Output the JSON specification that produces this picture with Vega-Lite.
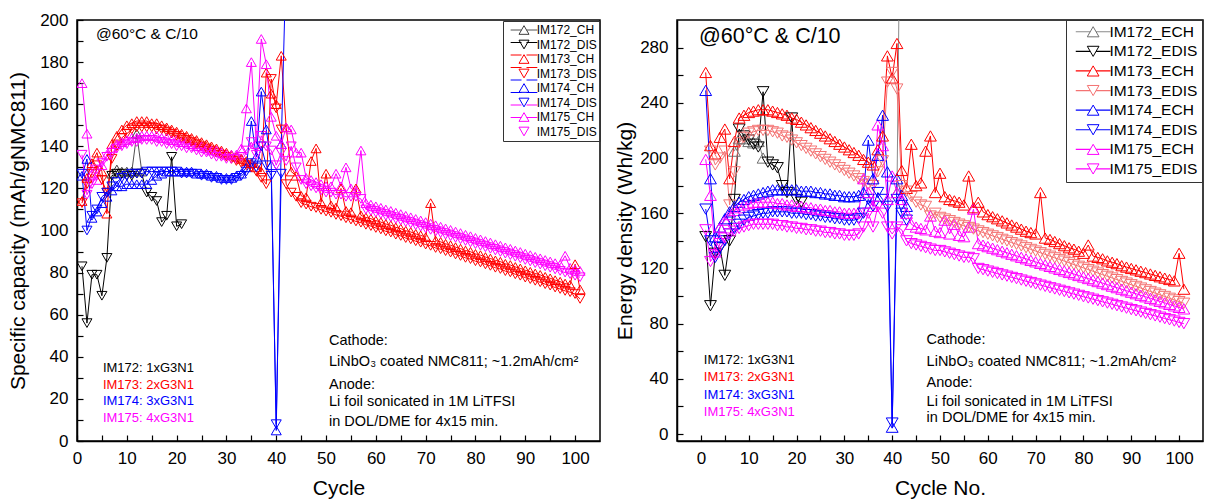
{
"padding": {"left": 6, "top": 10, "right": 2, "bottom": 2},
"background": "white",
"bounds": "flush",
"spacing": 77,
"resolve": {"scale": {"color": "independent", "shape": "independent", "stroke": "independent"}, "legend": {"color": "independent", "shape": "independent", "stroke": "independent"}},
"config": {
 "font": "Liberation Sans",
 "view": {"stroke": "#000", "strokeWidth": 1.5},
 "axis": {"grid": false, "domainColor": "#000", "domainWidth": 1.5, "tickColor": "#000", "tickWidth": 1.2, "tickSize": -6, "labelPadding": 15, "labelFontSize": 17, "labelColor": "#000", "titleFontSize": 21, "titleFontWeight": "normal", "titleColor": "#000", "labelFlush": false, "labelOverlap": false, "labelFont": "Liberation Sans", "titleFont": "Liberation Sans"}
},
"datasets": {
"L": [
{"c":1,"IM172_DIS":83,"IM173_CH":114,"IM173_DIS":113,"IM174_CH":126,"IM174_DIS":127,"IM175_CH":170,"IM175_DIS":136},
{"c":2,"IM172_DIS":56,"IM173_CH":125,"IM173_DIS":122,"IM174_CH":134,"IM174_DIS":100,"IM175_CH":146,"IM175_DIS":117},
{"c":3,"IM172_DIS":79,"IM173_CH":132,"IM173_DIS":127,"IM174_CH":106,"IM174_DIS":107,"IM175_CH":127,"IM175_DIS":122},
{"c":4,"IM172_DIS":79,"IM173_CH":137,"IM173_DIS":131,"IM174_CH":109,"IM174_DIS":110,"IM175_CH":124,"IM175_DIS":129},
{"c":5,"IM172_DIS":69,"IM173_CH":128,"IM173_DIS":124,"IM174_CH":113,"IM174_DIS":116,"IM175_CH":131,"IM175_DIS":132},
{"c":6,"IM172_DIS":87,"IM173_CH":108,"IM173_DIS":118,"IM174_CH":116,"IM174_DIS":118,"IM175_CH":136,"IM175_DIS":135},
{"c":7,"IM172_CH":127,"IM172_DIS":126,"IM173_CH":141,"IM173_DIS":134,"IM174_CH":119,"IM174_DIS":121,"IM175_CH":139,"IM175_DIS":137},
{"c":8,"IM172_CH":129,"IM172_DIS":127,"IM173_CH":145,"IM173_DIS":140,"IM174_CH":121,"IM174_DIS":123,"IM175_CH":141,"IM175_DIS":139},
{"c":9,"IM172_CH":128,"IM172_DIS":127,"IM173_CH":148,"IM173_DIS":144,"IM174_CH":121,"IM174_DIS":125,"IM175_CH":142,"IM175_DIS":140},
{"c":10,"IM172_CH":128,"IM172_DIS":126,"IM173_CH":150,"IM173_DIS":146,"IM174_CH":122,"IM174_DIS":126,"IM175_CH":143,"IM175_DIS":141},
{"c":11,"IM172_CH":128,"IM172_DIS":126,"IM173_CH":151,"IM173_DIS":148,"IM174_CH":122,"IM174_DIS":127,"IM175_CH":144,"IM175_DIS":142},
{"c":12,"IM172_CH":146,"IM172_DIS":127,"IM173_CH":152,"IM173_DIS":149,"IM174_CH":122,"IM174_DIS":127,"IM175_CH":144,"IM175_DIS":142},
{"c":13,"IM172_CH":128,"IM172_DIS":127,"IM173_CH":152,"IM173_DIS":149,"IM174_CH":122,"IM174_DIS":127,"IM175_CH":145,"IM175_DIS":143},
{"c":14,"IM172_DIS":118,"IM173_CH":152,"IM173_DIS":149,"IM174_CH":122,"IM174_DIS":128,"IM175_CH":145,"IM175_DIS":143},
{"c":15,"IM172_DIS":116,"IM173_CH":151,"IM173_DIS":149,"IM174_CH":124,"IM174_DIS":128,"IM175_CH":145,"IM175_DIS":143},
{"c":16,"IM172_DIS":114,"IM173_CH":151,"IM173_DIS":148,"IM174_CH":126,"IM174_DIS":128,"IM175_CH":145,"IM175_DIS":142},
{"c":17,"IM172_DIS":104,"IM173_CH":150,"IM173_DIS":148,"IM174_CH":127,"IM174_DIS":128,"IM175_CH":144,"IM175_DIS":142},
{"c":18,"IM172_DIS":107,"IM173_CH":149,"IM173_DIS":147,"IM174_CH":128,"IM174_DIS":128,"IM175_CH":144,"IM175_DIS":141},
{"c":19,"IM172_DIS":135,"IM173_CH":148,"IM173_DIS":146,"IM174_CH":128,"IM174_DIS":128,"IM175_CH":143,"IM175_DIS":141},
{"c":20,"IM172_DIS":102,"IM173_CH":147,"IM173_DIS":145,"IM174_CH":128,"IM174_DIS":128,"IM175_CH":143,"IM175_DIS":140},
{"c":21,"IM172_DIS":103,"IM173_CH":146,"IM173_DIS":144,"IM174_CH":128,"IM174_DIS":127,"IM175_CH":142,"IM175_DIS":140},
{"c":22,"IM173_CH":145,"IM173_DIS":143,"IM174_CH":128,"IM174_DIS":127,"IM175_CH":142,"IM175_DIS":139},
{"c":23,"IM173_CH":144,"IM173_DIS":142,"IM174_CH":128,"IM174_DIS":127,"IM175_CH":141,"IM175_DIS":139},
{"c":24,"IM173_CH":143,"IM173_DIS":141,"IM174_CH":127,"IM174_DIS":127,"IM175_CH":140,"IM175_DIS":138},
{"c":25,"IM173_CH":142,"IM173_DIS":140,"IM174_CH":127,"IM174_DIS":126,"IM175_CH":140,"IM175_DIS":137},
{"c":26,"IM173_CH":141,"IM173_DIS":139,"IM174_CH":127,"IM174_DIS":126,"IM175_CH":139,"IM175_DIS":137},
{"c":27,"IM173_CH":140,"IM173_DIS":138,"IM174_CH":126,"IM174_DIS":125,"IM175_CH":138,"IM175_DIS":136},
{"c":28,"IM173_CH":139,"IM173_DIS":137,"IM174_CH":126,"IM174_DIS":125,"IM175_CH":138,"IM175_DIS":135},
{"c":29,"IM173_CH":138,"IM173_DIS":136,"IM174_CH":125,"IM174_DIS":124,"IM175_CH":137,"IM175_DIS":135},
{"c":30,"IM173_CH":137,"IM173_DIS":135,"IM174_CH":125,"IM174_DIS":124,"IM175_CH":136,"IM175_DIS":134},
{"c":31,"IM173_CH":136,"IM173_DIS":134,"IM174_CH":125,"IM174_DIS":124,"IM175_CH":136,"IM175_DIS":134},
{"c":32,"IM173_CH":135,"IM173_DIS":133,"IM174_CH":126,"IM174_DIS":125,"IM175_CH":136,"IM175_DIS":134},
{"c":33,"IM173_CH":134,"IM173_DIS":132,"IM174_CH":127,"IM174_DIS":126,"IM175_CH":139,"IM175_DIS":135},
{"c":34,"IM173_CH":133,"IM173_DIS":131,"IM174_CH":130,"IM174_DIS":128,"IM175_CH":158,"IM175_DIS":138},
{"c":35,"IM173_CH":132,"IM173_DIS":130,"IM174_CH":152,"IM174_DIS":132,"IM175_CH":180,"IM175_DIS":142},
{"c":36,"IM173_CH":130,"IM173_DIS":128,"IM174_CH":135,"IM174_DIS":130,"IM175_CH":141,"IM175_DIS":136},
{"c":37,"IM173_CH":128,"IM173_DIS":125,"IM174_CH":166,"IM174_DIS":140,"IM175_CH":191,"IM175_DIS":145},
{"c":38,"IM173_CH":175,"IM173_DIS":122,"IM174_CH":148,"IM174_DIS":131,"IM175_CH":179,"IM175_DIS":140},
{"c":39,"IM173_CH":165,"IM173_DIS":172,"IM174_CH":131,"IM174_DIS":126,"IM175_CH":154,"IM175_DIS":138},
{"c":40,"IM173_CH":160,"IM173_DIS":158,"IM174_CH":5,"IM174_DIS":8,"IM175_CH":145,"IM175_DIS":131},
{"c":41,"IM173_CH":183,"IM173_DIS":148,"IM174_CH":141,"IM174_DIS":127,"IM175_CH":141,"IM175_DIS":137},
{"c":42,"IM173_CH":149,"IM173_DIS":122,"IM174_CH":230,"IM175_CH":149,"IM175_DIS":133},
{"c":43,"IM173_CH":128,"IM173_DIS":118,"IM175_CH":148,"IM175_DIS":140},
{"c":44,"IM173_CH":126,"IM173_DIS":116,"IM175_CH":137,"IM175_DIS":130},
{"c":45,"IM173_CH":116.5,"IM173_DIS":113,"IM175_CH":137,"IM175_DIS":124},
{"c":46,"IM173_CH":115.8,"IM173_DIS":112.3,"IM175_CH":125,"IM175_DIS":122},
{"c":47,"IM173_CH":133,"IM173_DIS":111.3,"IM175_CH":124,"IM175_DIS":121},
{"c":48,"IM173_CH":139,"IM173_DIS":110.7,"IM175_CH":123,"IM175_DIS":120},
{"c":49,"IM173_CH":113.3,"IM173_DIS":109.8,"IM175_CH":122,"IM175_DIS":119},
{"c":50,"IM173_CH":127,"IM173_DIS":109,"IM175_CH":121,"IM175_DIS":118},
{"c":51,"IM173_CH":111.9,"IM173_DIS":108.4,"IM175_CH":121,"IM175_DIS":118},
{"c":52,"IM173_CH":110.9,"IM173_DIS":107.4,"IM175_CH":127,"IM175_DIS":117},
{"c":53,"IM173_CH":120,"IM173_DIS":106.8,"IM175_CH":121,"IM175_DIS":117},
{"c":54,"IM173_CH":109.3,"IM173_DIS":105.8,"IM175_CH":130,"IM175_DIS":116},
{"c":55,"IM173_CH":108.7,"IM173_DIS":105.2,"IM175_CH":120,"IM175_DIS":116},
{"c":56,"IM173_CH":120,"IM173_DIS":104.3,"IM175_CH":119,"IM175_DIS":116},
{"c":57,"IM173_CH":107.2,"IM173_DIS":103.7,"IM175_CH":138,"IM175_DIS":115},
{"c":58,"IM173_CH":106.2,"IM173_DIS":102.7,"IM175_CH":113,"IM175_DIS":110},
{"c":59,"IM173_CH":105.6,"IM173_DIS":102.1,"IM175_CH":112.3,"IM175_DIS":109.3},
{"c":60,"IM173_CH":104.7,"IM173_DIS":101.2,"IM175_CH":111.5,"IM175_DIS":108.5},
{"c":61,"IM173_CH":104,"IM173_DIS":100.5,"IM175_CH":110.8,"IM175_DIS":107.8},
{"c":62,"IM173_CH":103.1,"IM173_DIS":99.6,"IM175_CH":110,"IM175_DIS":107},
{"c":63,"IM173_CH":102.5,"IM173_DIS":99,"IM175_CH":109.3,"IM175_DIS":106.3},
{"c":64,"IM173_CH":101.5,"IM173_DIS":98,"IM175_CH":108.5,"IM175_DIS":105.5},
{"c":65,"IM173_CH":100.9,"IM173_DIS":97.4,"IM175_CH":107.8,"IM175_DIS":104.8},
{"c":66,"IM173_CH":99.9,"IM173_DIS":96.4,"IM175_CH":107,"IM175_DIS":104},
{"c":67,"IM173_CH":99.3,"IM173_DIS":95.8,"IM175_CH":106.3,"IM175_DIS":103.3},
{"c":68,"IM173_CH":98.4,"IM173_DIS":94.9,"IM175_CH":105.5,"IM175_DIS":102.5},
{"c":69,"IM173_CH":97.7,"IM173_DIS":94.2,"IM175_CH":104.8,"IM175_DIS":101.8},
{"c":70,"IM173_CH":96.8,"IM173_DIS":93.3,"IM175_CH":104,"IM175_DIS":101},
{"c":71,"IM173_CH":113,"IM173_DIS":92.7,"IM175_CH":103.3,"IM175_DIS":100.3},
{"c":72,"IM173_CH":95.2,"IM173_DIS":91.7,"IM175_CH":102.5,"IM175_DIS":99.5},
{"c":73,"IM173_CH":94.6,"IM173_DIS":91.1,"IM175_CH":101.8,"IM175_DIS":98.8},
{"c":74,"IM173_CH":93.7,"IM173_DIS":90.2,"IM175_CH":101,"IM175_DIS":98},
{"c":75,"IM173_CH":93,"IM173_DIS":89.5,"IM175_CH":100.3,"IM175_DIS":97.3},
{"c":76,"IM173_CH":92.1,"IM173_DIS":88.6,"IM175_CH":99.5,"IM175_DIS":96.5},
{"c":77,"IM173_CH":91.4,"IM173_DIS":87.9,"IM175_CH":98.8,"IM175_DIS":95.8},
{"c":78,"IM173_CH":90.5,"IM173_DIS":87,"IM175_CH":98,"IM175_DIS":95},
{"c":79,"IM173_CH":89.9,"IM173_DIS":86.4,"IM175_CH":97.3,"IM175_DIS":94.3},
{"c":80,"IM173_CH":88.9,"IM173_DIS":85.4,"IM175_CH":96.5,"IM175_DIS":93.5},
{"c":81,"IM173_CH":88.3,"IM173_DIS":84.8,"IM175_CH":95.8,"IM175_DIS":92.8},
{"c":82,"IM173_CH":87.4,"IM173_DIS":83.9,"IM175_CH":95,"IM175_DIS":92},
{"c":83,"IM173_CH":86.7,"IM173_DIS":83.2,"IM175_CH":94.3,"IM175_DIS":91.3},
{"c":84,"IM173_CH":85.8,"IM173_DIS":82.3,"IM175_CH":93.5,"IM175_DIS":90.5},
{"c":85,"IM173_CH":85.2,"IM173_DIS":81.7,"IM175_CH":92.8,"IM175_DIS":89.8},
{"c":86,"IM173_CH":84.2,"IM173_DIS":80.7,"IM175_CH":92,"IM175_DIS":89},
{"c":87,"IM173_CH":83.6,"IM173_DIS":80.1,"IM175_CH":91.3,"IM175_DIS":88.3},
{"c":88,"IM173_CH":82.7,"IM173_DIS":79.2,"IM175_CH":90.5,"IM175_DIS":87.5},
{"c":89,"IM173_CH":82,"IM173_DIS":78.5,"IM175_CH":89.8,"IM175_DIS":86.8},
{"c":90,"IM173_CH":81.1,"IM173_DIS":77.6,"IM175_CH":89,"IM175_DIS":86},
{"c":91,"IM173_CH":80.4,"IM173_DIS":76.9,"IM175_CH":88.3,"IM175_DIS":85.3},
{"c":92,"IM173_CH":79.6,"IM173_DIS":76.1,"IM175_CH":87.5,"IM175_DIS":84.5},
{"c":93,"IM173_CH":78.9,"IM173_DIS":75.4,"IM175_CH":86.8,"IM175_DIS":83.8},
{"c":94,"IM173_CH":78,"IM173_DIS":74.5,"IM175_CH":86,"IM175_DIS":83},
{"c":95,"IM173_CH":77.3,"IM173_DIS":73.8,"IM175_CH":85.3,"IM175_DIS":82.3},
{"c":96,"IM173_CH":76.4,"IM173_DIS":72.9,"IM175_CH":84.5,"IM175_DIS":81.5},
{"c":97,"IM173_CH":75.7,"IM173_DIS":72.2,"IM175_CH":83.8,"IM175_DIS":80.8},
{"c":98,"IM173_CH":74.8,"IM173_DIS":71.3,"IM175_CH":88,"IM175_DIS":80},
{"c":99,"IM173_CH":74.2,"IM173_DIS":70.7,"IM175_CH":82.3,"IM175_DIS":79.3},
{"c":100,"IM173_CH":84,"IM173_DIS":69.8,"IM175_CH":81.5,"IM175_DIS":78.5},
{"c":101,"IM173_CH":72,"IM173_DIS":67.5,"IM175_CH":80.8,"IM175_DIS":77.8}
],
"R": [
{"c":1,"IM172_EDIS":143,"IM173_ECH":262,"IM174_ECH":249,"IM174_EDIS":163,"IM175_ECH":199,"IM175_EDIS":148},
{"c":2,"IM172_EDIS":93,"IM173_ECH":209,"IM173_EDIS":205,"IM174_ECH":185,"IM174_EDIS":140,"IM175_ECH":173,"IM175_EDIS":125},
{"c":3,"IM172_EDIS":131,"IM173_ECH":203,"IM173_EDIS":195,"IM174_ECH":143,"IM174_EDIS":128,"IM175_ECH":132,"IM175_EDIS":130},
{"c":4,"IM172_EDIS":135,"IM173_ECH":215,"IM173_EDIS":200,"IM174_ECH":150,"IM174_EDIS":135,"IM175_ECH":150,"IM175_EDIS":138},
{"c":5,"IM172_EDIS":115,"IM173_ECH":221,"IM173_EDIS":205,"IM174_ECH":156,"IM174_EDIS":140,"IM175_ECH":155,"IM175_EDIS":142},
{"c":6,"IM172_EDIS":140,"IM173_ECH":185,"IM173_EDIS":166,"IM174_ECH":161,"IM174_EDIS":145,"IM175_ECH":159,"IM175_EDIS":145},
{"c":7,"IM172_ECH":205,"IM172_EDIS":170,"IM173_ECH":212,"IM173_EDIS":190,"IM174_ECH":165,"IM174_EDIS":149,"IM175_ECH":162,"IM175_EDIS":147},
{"c":8,"IM172_ECH":214,"IM172_EDIS":221,"IM173_ECH":229,"IM173_EDIS":211,"IM174_ECH":168,"IM174_EDIS":152,"IM175_ECH":164,"IM175_EDIS":149},
{"c":9,"IM172_ECH":214,"IM172_EDIS":216,"IM173_ECH":231,"IM173_EDIS":215,"IM174_ECH":170,"IM174_EDIS":155,"IM175_ECH":166,"IM175_EDIS":150},
{"c":10,"IM172_ECH":212,"IM172_EDIS":213,"IM173_ECH":233,"IM173_EDIS":218,"IM174_ECH":172,"IM174_EDIS":157,"IM175_ECH":167,"IM175_EDIS":151},
{"c":11,"IM172_ECH":211,"IM172_EDIS":210,"IM173_ECH":234,"IM173_EDIS":219,"IM174_ECH":173,"IM174_EDIS":158,"IM175_ECH":168,"IM175_EDIS":152},
{"c":12,"IM172_ECH":212,"IM172_EDIS":208,"IM173_ECH":235,"IM173_EDIS":220,"IM174_ECH":174,"IM174_EDIS":159,"IM175_ECH":168,"IM175_EDIS":152},
{"c":13,"IM172_ECH":200,"IM172_EDIS":248,"IM173_ECH":235,"IM173_EDIS":220,"IM174_ECH":175,"IM174_EDIS":160,"IM175_ECH":168,"IM175_EDIS":152},
{"c":14,"IM172_EDIS":197,"IM173_ECH":235,"IM173_EDIS":220,"IM174_ECH":176,"IM174_EDIS":160,"IM175_ECH":168,"IM175_EDIS":152},
{"c":15,"IM172_EDIS":195,"IM173_ECH":234,"IM173_EDIS":219,"IM174_ECH":177,"IM174_EDIS":161,"IM175_ECH":168,"IM175_EDIS":152},
{"c":16,"IM172_EDIS":193,"IM173_ECH":233,"IM173_EDIS":218,"IM174_ECH":177,"IM174_EDIS":161,"IM175_ECH":167,"IM175_EDIS":151},
{"c":17,"IM172_EDIS":180,"IM173_ECH":232,"IM173_EDIS":216,"IM174_ECH":177,"IM174_EDIS":161,"IM175_ECH":167,"IM175_EDIS":151},
{"c":18,"IM172_EDIS":175,"IM173_ECH":231,"IM173_EDIS":215,"IM174_ECH":177,"IM174_EDIS":161,"IM175_ECH":166,"IM175_EDIS":150},
{"c":19,"IM172_EDIS":229,"IM173_ECH":229,"IM173_EDIS":213,"IM174_ECH":177,"IM174_EDIS":160,"IM175_ECH":166,"IM175_EDIS":150},
{"c":20,"IM172_EDIS":170,"IM173_ECH":228,"IM173_EDIS":211,"IM174_ECH":177,"IM174_EDIS":160,"IM175_ECH":165,"IM175_EDIS":149},
{"c":21,"IM172_EDIS":168,"IM173_ECH":226,"IM173_EDIS":209,"IM174_ECH":176,"IM174_EDIS":160,"IM175_ECH":165,"IM175_EDIS":149},
{"c":22,"IM173_ECH":224,"IM173_EDIS":207,"IM174_ECH":176,"IM174_EDIS":159,"IM175_ECH":164,"IM175_EDIS":148},
{"c":23,"IM173_ECH":222,"IM173_EDIS":205,"IM174_ECH":176,"IM174_EDIS":159,"IM175_ECH":164,"IM175_EDIS":148},
{"c":24,"IM173_ECH":220,"IM173_EDIS":203,"IM174_ECH":175,"IM174_EDIS":158,"IM175_ECH":163,"IM175_EDIS":147},
{"c":25,"IM173_ECH":218,"IM173_EDIS":201,"IM174_ECH":175,"IM174_EDIS":158,"IM175_ECH":163,"IM175_EDIS":147},
{"c":26,"IM173_ECH":216,"IM173_EDIS":199,"IM174_ECH":174,"IM174_EDIS":157,"IM175_ECH":162,"IM175_EDIS":146},
{"c":27,"IM173_ECH":214,"IM173_EDIS":197,"IM174_ECH":174,"IM174_EDIS":157,"IM175_ECH":162,"IM175_EDIS":146},
{"c":28,"IM173_ECH":212,"IM173_EDIS":195,"IM174_ECH":173,"IM174_EDIS":156,"IM175_ECH":161,"IM175_EDIS":145},
{"c":29,"IM173_ECH":210,"IM173_EDIS":193,"IM174_ECH":173,"IM174_EDIS":156,"IM175_ECH":161,"IM175_EDIS":145},
{"c":30,"IM173_ECH":208,"IM173_EDIS":191,"IM174_ECH":172,"IM174_EDIS":155,"IM175_ECH":160,"IM175_EDIS":144},
{"c":31,"IM173_ECH":206,"IM173_EDIS":189,"IM174_ECH":172,"IM174_EDIS":155,"IM175_ECH":160,"IM175_EDIS":144},
{"c":32,"IM173_ECH":204,"IM173_EDIS":187,"IM174_ECH":172,"IM174_EDIS":155,"IM175_ECH":160,"IM175_EDIS":144},
{"c":33,"IM173_ECH":202,"IM173_EDIS":185,"IM174_ECH":173,"IM174_EDIS":156,"IM175_ECH":161,"IM175_EDIS":145},
{"c":34,"IM173_ECH":199,"IM173_EDIS":183,"IM174_ECH":175,"IM174_EDIS":160,"IM175_ECH":185,"IM175_EDIS":150},
{"c":35,"IM173_ECH":197,"IM173_EDIS":181,"IM174_ECH":213,"IM174_EDIS":170,"IM175_ECH":175,"IM175_EDIS":160},
{"c":36,"IM173_ECH":195,"IM173_EDIS":180,"IM174_ECH":185,"IM174_EDIS":165,"IM175_ECH":165,"IM175_EDIS":150},
{"c":37,"IM173_ECH":206,"IM173_EDIS":190,"IM174_ECH":202,"IM174_EDIS":175,"IM175_ECH":224,"IM175_EDIS":165},
{"c":38,"IM173_ECH":216,"IM173_EDIS":198,"IM174_ECH":231,"IM174_EDIS":170,"IM175_ECH":209,"IM175_EDIS":160},
{"c":39,"IM173_ECH":274,"IM173_EDIS":255,"IM174_ECH":190,"IM174_EDIS":165,"IM175_ECH":170,"IM175_EDIS":150},
{"c":40,"IM173_ECH":258,"IM173_EDIS":262,"IM174_ECH":5,"IM174_EDIS":8,"IM175_ECH":187,"IM175_EDIS":145},
{"c":41,"IM172_ECH":175,"IM173_ECH":283,"IM173_EDIS":250,"IM174_ECH":185,"IM174_EDIS":170,"IM175_ECH":175,"IM175_EDIS":150},
{"c":42,"IM172_ECH":500,"IM173_ECH":191,"IM173_EDIS":180,"IM174_ECH":173,"IM174_EDIS":160,"IM175_ECH":170,"IM175_EDIS":148},
{"c":43,"IM173_ECH":178,"IM173_EDIS":176,"IM174_ECH":165,"IM174_EDIS":155,"IM175_ECH":160,"IM175_EDIS":140},
{"c":44,"IM173_ECH":210,"IM173_EDIS":172,"IM175_ECH":152,"IM175_EDIS":138},
{"c":45,"IM173_ECH":180,"IM173_EDIS":168,"IM175_ECH":150,"IM175_EDIS":137},
{"c":46,"IM173_ECH":182,"IM173_EDIS":166,"IM175_ECH":149,"IM175_EDIS":136},
{"c":47,"IM173_ECH":205,"IM173_EDIS":165,"IM175_ECH":148,"IM175_EDIS":135},
{"c":48,"IM173_ECH":216,"IM173_EDIS":158,"IM175_ECH":158,"IM175_EDIS":134},
{"c":49,"IM173_ECH":175,"IM173_EDIS":160,"IM175_ECH":147,"IM175_EDIS":133},
{"c":50,"IM173_ECH":189,"IM173_EDIS":157,"IM175_ECH":146,"IM175_EDIS":133},
{"c":51,"IM173_ECH":172,"IM173_EDIS":155.8,"IM175_ECH":155,"IM175_EDIS":132},
{"c":52,"IM173_ECH":170,"IM173_EDIS":154.6,"IM175_ECH":145,"IM175_EDIS":131},
{"c":53,"IM173_ECH":169,"IM173_EDIS":153.3,"IM175_ECH":152,"IM175_EDIS":130},
{"c":54,"IM173_ECH":168,"IM173_EDIS":152.1,"IM175_ECH":144,"IM175_EDIS":129},
{"c":55,"IM173_ECH":166,"IM173_EDIS":150.9,"IM175_ECH":143,"IM175_EDIS":128},
{"c":56,"IM173_ECH":187,"IM173_EDIS":149.7,"IM175_ECH":150,"IM175_EDIS":128},
{"c":57,"IM173_ECH":164,"IM173_EDIS":148.5,"IM175_ECH":163,"IM175_EDIS":127},
{"c":58,"IM173_ECH":168,"IM173_EDIS":147.2,"IM175_ECH":138,"IM175_EDIS":120},
{"c":59,"IM173_ECH":161,"IM173_EDIS":146,"IM175_ECH":136.9,"IM175_EDIS":119.1},
{"c":60,"IM173_ECH":159,"IM173_EDIS":144.8,"IM175_ECH":135.8,"IM175_EDIS":118.1},
{"c":61,"IM173_ECH":157.5,"IM173_EDIS":143.6,"IM175_ECH":134.7,"IM175_EDIS":117.2},
{"c":62,"IM173_ECH":156,"IM173_EDIS":142.4,"IM175_ECH":133.6,"IM175_EDIS":116.3},
{"c":63,"IM173_ECH":154.5,"IM173_EDIS":141.1,"IM175_ECH":132.5,"IM175_EDIS":115.3},
{"c":64,"IM173_ECH":153,"IM173_EDIS":139.9,"IM175_ECH":131.4,"IM175_EDIS":114.4},
{"c":65,"IM173_ECH":151.5,"IM173_EDIS":138.7,"IM175_ECH":130.3,"IM175_EDIS":113.5},
{"c":66,"IM173_ECH":150,"IM173_EDIS":137.5,"IM175_ECH":129.2,"IM175_EDIS":112.6},
{"c":67,"IM173_ECH":148.5,"IM173_EDIS":136.3,"IM175_ECH":128.1,"IM175_EDIS":111.6},
{"c":68,"IM173_ECH":147,"IM173_EDIS":135,"IM175_ECH":127,"IM175_EDIS":110.7},
{"c":69,"IM173_ECH":146,"IM173_EDIS":133.8,"IM175_ECH":125.9,"IM175_EDIS":109.8},
{"c":70,"IM173_ECH":145,"IM173_EDIS":132.6,"IM175_ECH":124.8,"IM175_EDIS":108.8},
{"c":71,"IM173_ECH":175,"IM173_EDIS":131.4,"IM175_ECH":123.7,"IM175_EDIS":107.9},
{"c":72,"IM173_ECH":142,"IM173_EDIS":130.2,"IM175_ECH":122.6,"IM175_EDIS":107},
{"c":73,"IM173_ECH":141,"IM173_EDIS":128.9,"IM175_ECH":121.5,"IM175_EDIS":106},
{"c":74,"IM173_ECH":139.5,"IM173_EDIS":127.7,"IM175_ECH":120.4,"IM175_EDIS":105.1},
{"c":75,"IM173_ECH":138,"IM173_EDIS":126.5,"IM175_ECH":119.3,"IM175_EDIS":104.2},
{"c":76,"IM173_ECH":136.5,"IM173_EDIS":125.3,"IM175_ECH":118.2,"IM175_EDIS":103.3},
{"c":77,"IM173_ECH":135,"IM173_EDIS":124.1,"IM175_ECH":117.1,"IM175_EDIS":102.3},
{"c":78,"IM173_ECH":134,"IM173_EDIS":122.8,"IM175_ECH":116,"IM175_EDIS":101.4},
{"c":79,"IM173_ECH":132.5,"IM173_EDIS":121.6,"IM175_ECH":114.9,"IM175_EDIS":100.5},
{"c":80,"IM173_ECH":131,"IM173_EDIS":120.4,"IM175_ECH":113.8,"IM175_EDIS":99.5},
{"c":81,"IM173_ECH":137,"IM173_EDIS":119.2,"IM175_ECH":112.7,"IM175_EDIS":98.6},
{"c":82,"IM173_ECH":129,"IM173_EDIS":118,"IM175_ECH":111.6,"IM175_EDIS":97.7},
{"c":83,"IM173_ECH":128,"IM173_EDIS":116.7,"IM175_ECH":110.5,"IM175_EDIS":96.7},
{"c":84,"IM173_ECH":127,"IM173_EDIS":115.5,"IM175_ECH":109.4,"IM175_EDIS":95.8},
{"c":85,"IM173_ECH":125.5,"IM173_EDIS":114.3,"IM175_ECH":108.3,"IM175_EDIS":94.9},
{"c":86,"IM173_ECH":124.5,"IM173_EDIS":113.1,"IM175_ECH":107.2,"IM175_EDIS":94},
{"c":87,"IM173_ECH":123.5,"IM173_EDIS":111.9,"IM175_ECH":106.1,"IM175_EDIS":93},
{"c":88,"IM173_ECH":122,"IM173_EDIS":110.6,"IM175_ECH":105,"IM175_EDIS":92.1},
{"c":89,"IM173_ECH":121,"IM173_EDIS":109.4,"IM175_ECH":103.9,"IM175_EDIS":91.2},
{"c":90,"IM173_ECH":120,"IM173_EDIS":108.2,"IM175_ECH":102.8,"IM175_EDIS":90.2},
{"c":91,"IM173_ECH":119,"IM173_EDIS":107,"IM175_ECH":101.7,"IM175_EDIS":89.3},
{"c":92,"IM173_ECH":118,"IM173_EDIS":105.8,"IM175_ECH":100.6,"IM175_EDIS":88.4},
{"c":93,"IM173_ECH":117,"IM173_EDIS":104.5,"IM175_ECH":99.5,"IM175_EDIS":87.4},
{"c":94,"IM173_ECH":116,"IM173_EDIS":103.3,"IM175_ECH":98.4,"IM175_EDIS":86.5},
{"c":95,"IM173_ECH":115,"IM173_EDIS":102.1,"IM175_ECH":97.3,"IM175_EDIS":85.6},
{"c":96,"IM173_ECH":114,"IM173_EDIS":100.9,"IM175_ECH":96.2,"IM175_EDIS":84.7},
{"c":97,"IM173_ECH":113,"IM173_EDIS":99.7,"IM175_ECH":95.1,"IM175_EDIS":83.7},
{"c":98,"IM173_ECH":112,"IM173_EDIS":98.4,"IM175_ECH":94,"IM175_EDIS":82.8},
{"c":99,"IM173_ECH":111,"IM173_EDIS":97.2,"IM175_ECH":92.9,"IM175_EDIS":81.9},
{"c":100,"IM173_ECH":131,"IM173_EDIS":96,"IM175_ECH":91.8,"IM175_EDIS":80.9},
{"c":101,"IM173_ECH":105,"IM173_EDIS":94.8,"IM175_ECH":90.7,"IM175_EDIS":80}
],
"LT": [
{"c":3.8,"v":193.2,"t":"@60°C & C/10","k":"T"},
{"c":5.2,"v":34.8,"t":"IM172: 1xG3N1","k":"IM172"},
{"c":5.2,"v":26.8,"t":"IM173: 2xG3N1","k":"IM173"},
{"c":5.2,"v":18.9,"t":"IM174: 3xG3N1","k":"IM174"},
{"c":5.2,"v":11.1,"t":"IM175: 4xG3N1","k":"IM175"},
{"c":50.6,"v":47.5,"t":"Cathode:","k":"N"},
{"c":50.6,"v":37.6,"t":"LiNbO₃ coated NMC811; ~1.2mAh/cm²","k":"N"},
{"c":50.6,"v":26.8,"t":"Anode:","k":"N"},
{"c":50.6,"v":18.6,"t":"Li foil sonicated in 1M LiTFSI","k":"N"},
{"c":50.6,"v":9,"t":"\u00a0in DOL/DME for 4x15 min.","k":"N"}
],
"RT": [
{"c":-0.4,"v":288,"t":"@60°C & C/10","k":"T"},
{"c":0.6,"v":53.7,"t":"IM172: 1xG3N1","k":"IM172"},
{"c":0.6,"v":41.3,"t":"IM173: 2xG3N1","k":"IM173"},
{"c":0.6,"v":28.4,"t":"IM174: 3xG3N1","k":"IM174"},
{"c":0.6,"v":15.7,"t":"IM175: 4xG3N1","k":"IM175"},
{"c":47.2,"v":68.2,"t":"Cathode:","k":"N"},
{"c":47.2,"v":52.5,"t":"LiNbO₃ coated NMC811; ~1.2mAh/cm²","k":"N"},
{"c":47.2,"v":36.9,"t":"Anode:","k":"N"},
{"c":47.2,"v":23.6,"t":"Li foil sonicated in 1M LiTFSI","k":"N"},
{"c":47.2,"v":11.6,"t":"\u00a0in DOL/DME for 4x15 min.","k":"N"}
]
},
"hconcat": [
{
 "width": 523, "height": 421,
 "encoding": {
  "x": {"field": "c", "type": "quantitative", "scale": {"domain": [0, 105], "nice": false, "zero": false},
        "axis": {"title": "Cycle", "values": [0,5,10,15,20,25,30,35,40,45,50,55,60,65,70,75,80,85,90,95,100], "labelExpr": "datum.value % 10 === 0 ? datum.label : ''", "titlePadding": 11}},
  "y": {"field": "v", "type": "quantitative", "scale": {"domain": [0, 200], "nice": false, "zero": false},
        "axis": {"title": "Specific capacity (mAh/gNMC811)", "values": [0,10,20,30,40,50,60,70,80,90,100,110,120,130,140,150,160,170,180,190,200], "labelExpr": "datum.value % 20 === 0 ? datum.label : ''", "titlePadding": 11}}
 },
 "layer": [
  {"data": {"name": "L"},
   "transform": [{"fold": ["IM172_CH","IM172_DIS","IM173_CH","IM173_DIS","IM174_CH","IM174_DIS","IM175_CH","IM175_DIS"], "as": ["sl", "v"]}],
   "mark": {"type": "line", "strokeWidth": 1, "clip": true, "invalid": "break-paths-show-domains"},
   "encoding": {"stroke": {"field": "sl", "type": "nominal",
     "scale": {"domain": ["IM172_CH","IM172_DIS","IM173_CH","IM173_DIS","IM174_CH","IM174_DIS","IM175_CH","IM175_DIS","zz"], "range": ["#505050","#000000","#ff0000","#ff0000","#0000ff","#0000ff","#ff00ff","#ff00ff","#ffffff"]},
     "legend": {"title": null, "values": ["IM172_CH","IM172_DIS","IM173_CH","IM173_DIS","IM174_CH","IM174_DIS","IM175_CH","IM175_DIS"], "orient": "none", "legendX": 426, "legendY": 1, "padding": 3, "symbolType": "M-2.67,0H-0.5M0.5,0H2.67", "symbolSize": 100, "symbolStrokeWidth": 1, "symbolOffset": 12, "labelOffset": 11.7, "labelFontSize": 12, "labelFont": "Liberation Sans", "labelOpacity": 0, "rowPadding": 0.5}}}},
  {"data": {"name": "L"},
   "transform": [{"fold": ["IM172_CH","IM172_DIS","IM173_CH","IM173_DIS","IM174_CH","IM174_DIS","IM175_CH","IM175_DIS"], "as": ["s", "v"]}, {"filter": "isValid(datum.v)"}],
   "mark": {"type": "point", "filled": false, "size": 100, "strokeWidth": 1, "opacity": 1, "clip": true},
   "encoding": {
    "color": {"field": "s", "type": "nominal",
     "scale": {"domain": ["IM172_CH","IM172_DIS","IM173_CH","IM173_DIS","IM174_CH","IM174_DIS","IM175_CH","IM175_DIS"], "range": ["#404040","#000000","#ff0000","#ff0000","#0000ff","#0000ff","#ff00ff","#ff00ff"]},
     "legend": {"title": null, "orient": "none", "legendX": 426, "legendY": 1, "padding": 3, "strokeColor": "#333", "symbolSize": 100, "symbolStrokeWidth": 1, "symbolOffset": 12, "labelOffset": 6.7, "labelFontSize": 12, "labelFont": "Liberation Sans", "labelColor": "#000", "rowPadding": 0.5}},
    "shape": {"field": "s", "type": "nominal",
     "scale": {"domain": ["IM172_CH","IM172_DIS","IM173_CH","IM173_DIS","IM174_CH","IM174_DIS","IM175_CH","IM175_DIS"], "range": ["triangle-up","triangle-down","triangle-up","triangle-down","triangle-up","triangle-down","triangle-up","triangle-down"]}}
   }},
  {"data": {"name": "LT"}, "transform": [{"filter": "datum.k === 'T'"}],
   "mark": {"type": "text", "align": "left", "baseline": "middle", "fontSize": 15.5, "color": "#000"},
   "encoding": {"text": {"field": "t"}}},
  {"data": {"name": "LT"}, "transform": [{"filter": "indexof(datum.k, 'IM') === 0"}],
   "mark": {"type": "text", "align": "left", "baseline": "middle", "fontSize": 13},
   "encoding": {"text": {"field": "t"},
    "color": {"condition": [{"test": "datum.k === 'IM173'", "value": "#ff0000"}, {"test": "datum.k === 'IM174'", "value": "#0000ff"}, {"test": "datum.k === 'IM175'", "value": "#ff00ff"}], "value": "#000000"}}},
  {"data": {"name": "LT"}, "transform": [{"filter": "datum.k === 'N'"}],
   "mark": {"type": "text", "align": "left", "baseline": "middle", "fontSize": 14.5, "color": "#000"},
   "encoding": {"text": {"field": "t"}}}
 ]
},
{
 "width": 526, "height": 421,
 "encoding": {
  "x": {"field": "c", "type": "quantitative", "scale": {"domain": [-5, 105], "nice": false, "zero": false},
        "axis": {"title": "Cycle No.", "values": [0,5,10,15,20,25,30,35,40,45,50,55,60,65,70,75,80,85,90,95,100], "labelExpr": "datum.value % 10 === 0 ? datum.label : ''", "titlePadding": 11}},
  "y": {"field": "v", "type": "quantitative", "scale": {"domain": [-5, 300], "nice": false, "zero": false},
        "axis": {"title": "Energy density (Wh/kg)", "values": [0,20,40,60,80,100,120,140,160,180,200,220,240,260,280], "labelExpr": "datum.value % 40 === 0 ? datum.label : ''", "titlePadding": 4}}
 },
 "layer": [
  {"data": {"name": "R"},
   "transform": [{"fold": ["IM172_ECH","IM172_EDIS","IM173_ECH","IM173_EDIS","IM174_ECH","IM174_EDIS","IM175_ECH","IM175_EDIS"], "as": ["sl", "v"]}],
   "mark": {"type": "line", "strokeWidth": 1, "clip": true, "invalid": "break-paths-show-domains"},
   "encoding": {"stroke": {"field": "sl", "type": "nominal",
     "scale": {"domain": ["IM172_ECH","IM172_EDIS","IM173_ECH","IM173_EDIS","IM174_ECH","IM174_EDIS","IM175_ECH","IM175_EDIS","zz"], "range": ["#8a8a8a","#000000","#ff0000","#f47373","#0000ff","#0000ff","#ff00ff","#ff00ff","#ffffff"]},
     "legend": {"title": null, "values": ["IM172_ECH","IM172_EDIS","IM173_ECH","IM173_EDIS","IM174_ECH","IM174_EDIS","IM175_ECH","IM175_EDIS"], "orient": "none", "legendX": 389, "legendY": 0, "padding": 4, "symbolType": "M-2.97,0H-0.5M0.5,0H2.97", "symbolSize": 137, "symbolStrokeWidth": 1.2, "symbolOffset": 15.4, "labelOffset": 17.5, "labelFontSize": 15.5, "labelFont": "Liberation Sans", "labelOpacity": 0, "rowPadding": 2.6}}}},
  {"data": {"name": "R"},
   "transform": [{"fold": ["IM172_ECH","IM172_EDIS","IM173_ECH","IM173_EDIS","IM174_ECH","IM174_EDIS","IM175_ECH","IM175_EDIS"], "as": ["s", "v"]}, {"filter": "isValid(datum.v)"}],
   "mark": {"type": "point", "filled": false, "size": 140, "strokeWidth": 1, "opacity": 1, "clip": true},
   "encoding": {
    "color": {"field": "s", "type": "nominal",
     "scale": {"domain": ["IM172_ECH","IM172_EDIS","IM173_ECH","IM173_EDIS","IM174_ECH","IM174_EDIS","IM175_ECH","IM175_EDIS"], "range": ["#707070","#000000","#ff0000","#f47373","#0000ff","#0000ff","#ff00ff","#ff00ff"]},
     "legend": {"title": null, "orient": "none", "legendX": 389, "legendY": 0, "padding": 4, "strokeColor": "#333", "symbolSize": 137, "symbolStrokeWidth": 1, "symbolOffset": 15.4, "labelOffset": 8.5, "labelFontSize": 15.5, "labelFont": "Liberation Sans", "labelColor": "#000", "rowPadding": 2.6}},
    "shape": {"field": "s", "type": "nominal",
     "scale": {"domain": ["IM172_ECH","IM172_EDIS","IM173_ECH","IM173_EDIS","IM174_ECH","IM174_EDIS","IM175_ECH","IM175_EDIS"], "range": ["triangle-up","triangle-down","triangle-up","triangle-down","triangle-up","triangle-down","triangle-up","triangle-down"]}}
   }},
  {"data": {"name": "RT"}, "transform": [{"filter": "datum.k === 'T'"}],
   "mark": {"type": "text", "align": "left", "baseline": "middle", "fontSize": 21.5, "color": "#000"},
   "encoding": {"text": {"field": "t"}}},
  {"data": {"name": "RT"}, "transform": [{"filter": "indexof(datum.k, 'IM') === 0"}],
   "mark": {"type": "text", "align": "left", "baseline": "middle", "fontSize": 13},
   "encoding": {"text": {"field": "t"},
    "color": {"condition": [{"test": "datum.k === 'IM173'", "value": "#ff0000"}, {"test": "datum.k === 'IM174'", "value": "#0000ff"}, {"test": "datum.k === 'IM175'", "value": "#ff00ff"}], "value": "#000000"}}},
  {"data": {"name": "RT"}, "transform": [{"filter": "datum.k === 'N'"}],
   "mark": {"type": "text", "align": "left", "baseline": "middle", "fontSize": 14.5, "color": "#000"},
   "encoding": {"text": {"field": "t"}}}
 ]
}
]
}
